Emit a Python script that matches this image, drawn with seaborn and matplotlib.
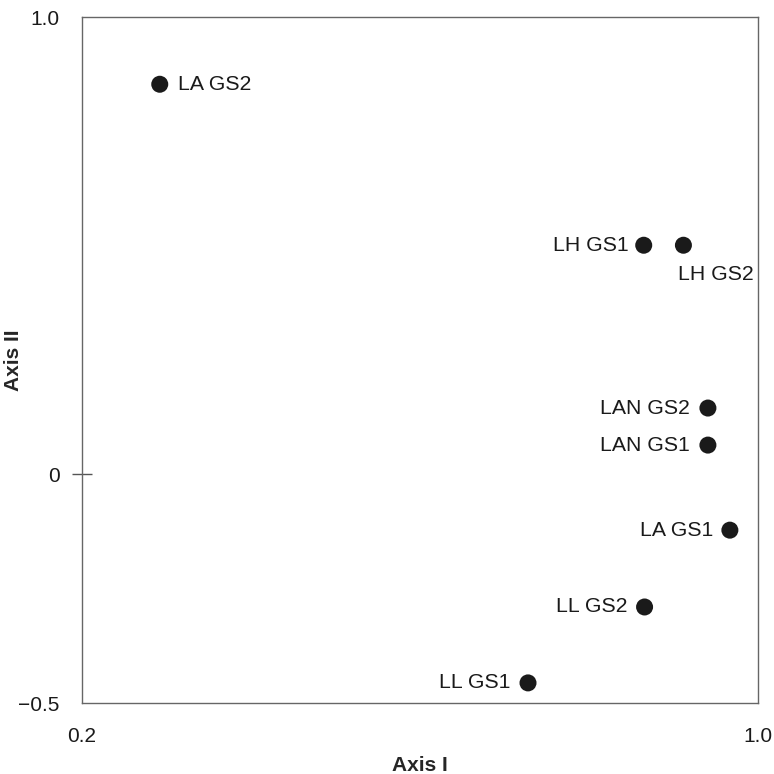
import matplotlib
matplotlib.use("Agg")
import matplotlib.pyplot as plt
import seaborn as sns
import pandas as pd

# ordination scores
labels = ["LA GS2", "LH GS1", "LH GS2", "LAN GS2", "LAN GS1", "LA GS1", "LL GS2", "LL GS1"]
axis1 = [0.292, 0.865, 0.912, 0.941, 0.941, 0.967, 0.866, 0.728]
axis2 = [0.853, 0.501, 0.501, 0.145, 0.064, -0.122, -0.290, -0.456]

xticks = [0.2, 1.0]
xticklabels = ["0.2", "1.0"]
yticks = [-0.5, 0, 1.0]
yticklabels = ["\u22120.5", "0", "1.0"]

df = pd.DataFrame({"Axis I": axis1, "Axis II": axis2, "site": labels})

sns.set_style("white")
plt.rcParams["font.family"] = ["Liberation Sans", "DejaVu Sans"]

fig = plt.figure(figsize=(7.74, 7.74), dpi=100)
ax = fig.add_axes([0.106, 0.0917, 0.873, 0.8863])

sns.scatterplot(data=df, x="Axis I", y="Axis II", ax=ax, s=150,
                color="#1a1a1a", edgecolor="none", legend=False)

# label placement (offset in points)
offsets = {
    "LA GS2": (13, 0, "left"),
    "LH GS1": (-11, 0, "right"),
    "LH GS2": (-4, -21, "left"),
    "LAN GS2": (-13, 0, "right"),
    "LAN GS1": (-13, 0, "right"),
    "LA GS1": (-12, 0, "right"),
    "LL GS2": (-12, 0, "right"),
    "LL GS1": (-13, 0, "right"),
}
for _, r in df.iterrows():
    dx, dy, ha = offsets[r["site"]]
    ax.annotate(r["site"], (r["Axis I"], r["Axis II"]), xytext=(dx, dy),
                textcoords="offset points", ha=ha, va="center",
                fontsize=15.3, color="#1a1a1a")

ax.set_xlim(0.2, 1.0)
ax.set_ylim(-0.5, 1.0)
ax.set_xticks(xticks)
ax.set_xticklabels(xticklabels)
ax.set_yticks(yticks)
ax.set_yticklabels(yticklabels)
ax.tick_params(axis="both", length=0, labelsize=15, colors="#1a1a1a")
ax.tick_params(axis="x", pad=17)
ax.tick_params(axis="y", pad=16)
# the single crossing tick at zero
ax.yaxis.remove_overlapping_locs = False
ax.set_yticks([0], minor=True)
ax.tick_params(axis="y", which="minor", direction="inout", length=15,
               width=1, color="#555555", left=True)

for sp in ax.spines.values():
    sp.set_color("#666666")
    sp.set_linewidth(1)

ax.set_xlabel("Axis I", fontsize=15, fontweight="bold", va="top")
ax.xaxis.set_label_coords(0.5, -0.077)
ax.set_ylabel("Axis II", fontsize=15, fontweight="bold")
ax.yaxis.set_label_coords(-0.087, 0.5)

fig.savefig("out.png", dpi=100)
